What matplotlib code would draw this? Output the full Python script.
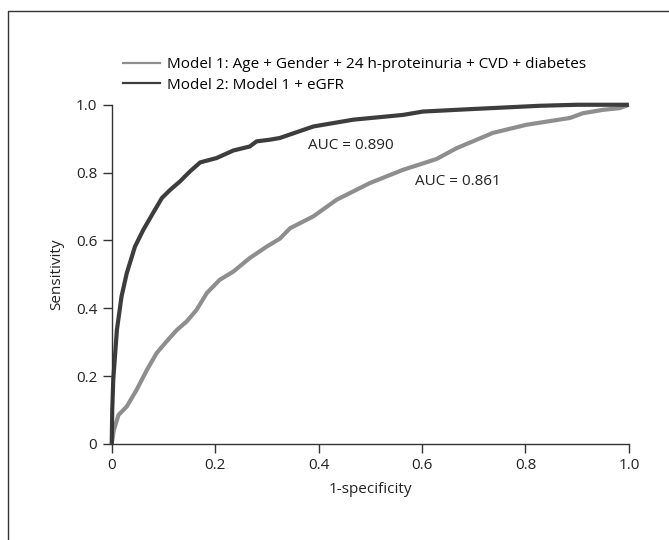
import matplotlib.pyplot as plt
from matplotlib.lines import Line2D

# ROC points (1-specificity, sensitivity)
m1_fpr = [0.0, 0.004, 0.013, 0.029, 0.048, 0.068, 0.087, 0.106, 0.126, 0.145,
          0.164, 0.184, 0.209, 0.235, 0.267, 0.300, 0.325, 0.345, 0.390, 0.435,
          0.499, 0.563, 0.628, 0.667, 0.692, 0.737, 0.802, 0.886, 0.911, 0.950,
          0.982, 1.0]
m1_tpr = [0.0, 0.04, 0.085, 0.11, 0.159, 0.218, 0.268, 0.302, 0.336, 0.361,
          0.395, 0.445, 0.484, 0.508, 0.548, 0.582, 0.605, 0.636, 0.671, 0.720,
          0.769, 0.808, 0.840, 0.872, 0.888, 0.917, 0.941, 0.961, 0.975, 0.985,
          0.990, 1.0]

m2_fpr = [0.0, 0.001, 0.003, 0.010, 0.019, 0.029, 0.045, 0.061, 0.080, 0.097,
          0.113, 0.132, 0.151, 0.171, 0.203, 0.235, 0.267, 0.280, 0.306, 0.325,
          0.390, 0.467, 0.563, 0.602, 0.692, 0.828, 0.900, 1.0]
m2_tpr = [0.0, 0.10, 0.19, 0.336, 0.435, 0.503, 0.582, 0.631, 0.681, 0.725,
          0.749, 0.774, 0.803, 0.830, 0.843, 0.865, 0.877, 0.892, 0.897, 0.902,
          0.936, 0.956, 0.970, 0.980, 0.987, 0.997, 1.0, 1.0]

labels = ["Model 1: Age + Gender + 24 h-proteinuria + CVD + diabetes",
          "Model 2: Model 1 + eGFR"]
auc_text = ["AUC = 0.861", "AUC = 0.890"]
ticks = [0, 0.2, 0.4, 0.6, 0.8, 1.0]
tick_labels = ["0", "0.2", "0.4", "0.6", "0.8", "1.0"]

plt.rcParams['font.family'] = ['Open Sans', 'DejaVu Sans']
plt.rcParams['font.size'] = 11

light = '#8e8e8e'
dark = '#3d3d3d'
axc = '#333333'
txt = '#222222'

fig = plt.figure(figsize=(6.69, 5.4), dpi=100)
ax = fig.add_axes([0.167, 0.178, 0.773, 0.628])

ax.plot(m1_fpr, m1_tpr, color=light, lw=3.0, clip_on=False, solid_capstyle='butt')
ax.plot(m2_fpr, m2_tpr, color=dark, lw=3.0, clip_on=False, solid_capstyle='butt')

ax.set_xlim(0, 1)
ax.set_ylim(0, 1)
ax.set_xticks(ticks)
ax.set_xticklabels(tick_labels)
ax.set_yticks(ticks)
ax.set_yticklabels(tick_labels)
for s in ['top', 'right']:
    ax.spines[s].set_visible(False)
for s in ['left', 'bottom']:
    ax.spines[s].set_color(axc)
    ax.spines[s].set_linewidth(1.0)
ax.tick_params(direction='out', length=6.5, width=1.0, color=axc, labelcolor=txt,
               labelsize=11, pad=4)

ax.set_xlabel("1-specificity", fontsize=11, color=txt, labelpad=6)
ax.set_ylabel("Sensitivity", fontsize=11, color=txt, labelpad=8)

ax.text(0.380, 0.879, auc_text[1], fontsize=11, color=txt, va='center', ha='left')
ax.text(0.586, 0.773, auc_text[0], fontsize=11, color=txt, va='center', ha='left')

handles = [Line2D([], [], color=light, lw=1.6), Line2D([], [], color=dark, lw=1.6)]
fig.legend(handles, labels, loc='upper left', bbox_to_anchor=(0.184, 0.894),
           frameon=False, fontsize=11, handlelength=2.4, handletextpad=0.5,
           labelspacing=0.36, borderaxespad=0, borderpad=0)

# frame around the figure (left and top only)
fig.add_artist(Line2D([8 / 669, 8 / 669, 1.0], [0.0, 1 - 11 / 540, 1 - 11 / 540],
                      color='#333333', lw=1.0, transform=fig.transFigure))

fig.savefig("out.png", dpi=100)
